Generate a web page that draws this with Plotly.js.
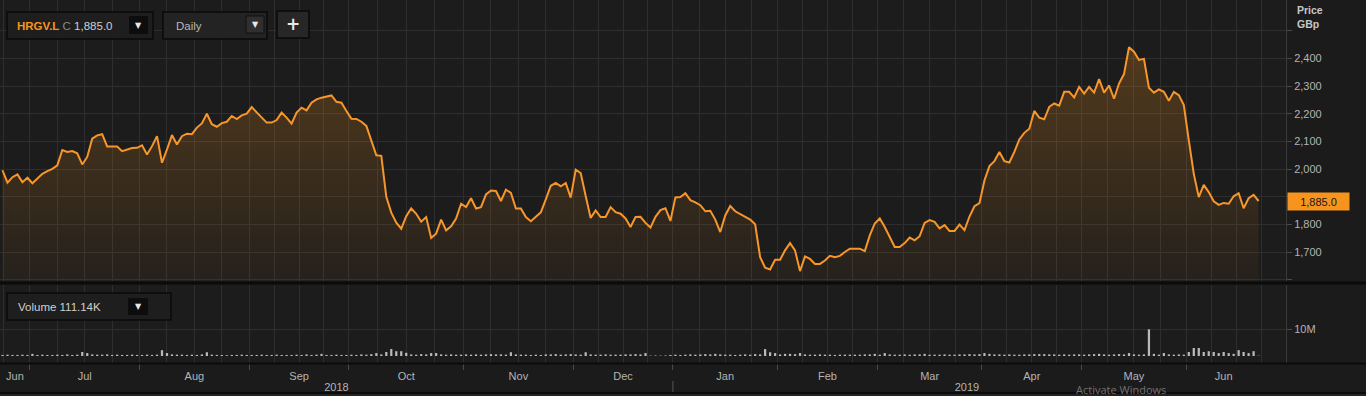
<!DOCTYPE html>
<html><head><meta charset="utf-8">
<script src="https://cdn.plot.ly/plotly-3.0.1.min.js"></script>
<style>html,body{margin:0;padding:0;background:#1b1b1b;overflow:hidden}#chart{width:1366px;height:396px}</style>
</head><body><div id="chart"></div>
<script>
// ---------- data ----------
const ticker = 'HRGV.L';
const interval = 'Daily';
const lastCloseText = '1,885.0';
const lastVolumeText = '111.14K';
const monthLabels = ['Jun','Jul','Aug','Sep','Oct','Nov','Dec','Jan','Feb','Mar','Apr','May','Jun'];
const monthYears  = ['2018','2018','2018','2018','2018','2018','2018','2019','2019','2019','2019','2019','2019'];
const monthSessions = [21,22,22,20,23,22,20,21,20,21,20,21,20];   // trading sessions per month
const sessionsBeforeStart = 15;                                   // sessions of Jun 2018 before first point
const priceTicks = [1600,1700,1800,1900,2000,2100,2200,2300,2400,2500];
const priceTickText = ['','1,700','1,800','','2,000','2,100','2,200','2,300','2,400',''];
const volumeTicks = [10];
const volumeTickText = ['10M'];
const lastClose = 1885.0;

const price = [
1996,1951,1971,1981,1953,1969,1949,1966,1983,1993,
2001,2014,2069,2062,2065,2057,2017,2044,2110,2122,
2126,2082,2082,2082,2065,2071,2076,2077,2086,2053,
2083,2119,2023,2071,2123,2089,2119,2128,2126,2150,
2165,2200,2162,2153,2166,2171,2192,2181,2194,2200,
2224,2205,2186,2168,2168,2177,2204,2186,2164,2204,
2222,2212,2240,2252,2258,2262,2266,2243,2240,2210,
2182,2181,2171,2156,2102,2050,2048,1900,1843,1807,
1785,1830,1858,1839,1810,1827,1752,1767,1818,1779,
1794,1822,1875,1863,1895,1858,1863,1909,1923,1921,
1885,1926,1914,1858,1858,1827,1812,1829,1844,1891,
1940,1950,1938,1950,1897,1998,1986,1903,1824,1851,
1827,1827,1863,1845,1839,1822,1791,1827,1828,1806,
1789,1828,1852,1859,1813,1898,1899,1913,1888,1880,
1870,1848,1850,1818,1773,1833,1867,1848,1838,1828,
1818,1801,1682,1644,1638,1673,1673,1707,1733,1707,
1632,1685,1676,1658,1658,1670,1687,1682,1687,1701,
1713,1713,1713,1704,1761,1804,1822,1791,1755,1719,
1719,1733,1753,1743,1758,1806,1816,1810,1786,1798,
1777,1777,1800,1780,1829,1866,1877,1959,2011,2029,
2062,2029,2024,2062,2107,2131,2146,2210,2186,2180,
2225,2237,2229,2279,2279,2259,2297,2273,2297,2276,
2325,2276,2302,2254,2309,2343,2440,2424,2394,2398,
2294,2276,2288,2279,2247,2279,2267,2231,2104,1983,
1899,1943,1917,1884,1871,1878,1875,1902,1913,1859,
1895,1907,1885];

// volume in millions of shares
const volumeM = [
0.4,0.5,0.4,0.4,0.5,0.4,0.8,0.4,0.5,0.4,
0.4,0.5,0.4,0.6,0.4,0.5,1.5,1.1,0.6,0.5,
0.5,0.6,0.4,0.5,0.4,0.4,0.5,0.4,0.4,0.5,
0.4,0.5,2.2,1.1,0.6,0.5,0.5,0.4,0.5,0.4,
0.6,1.4,0.5,0.4,0.4,0.3,0.4,0.4,0.5,0.4,
0.4,0.4,0.5,0.4,0.4,0.5,0.4,0.4,0.4,0.5,
0.4,0.6,0.4,0.5,0.8,0.4,0.4,0.5,0.4,0.4,
0.5,0.4,0.6,0.5,0.7,1.1,0.6,1.5,2.6,1.8,
1.8,1.2,0.6,0.5,0.7,0.6,1.1,1.1,0.6,0.5,
0.6,0.5,0.5,0.6,0.5,0.6,0.5,0.6,0.7,0.6,
0.6,0.5,1.4,0.6,0.5,0.5,0.4,0.5,0.4,0.6,
0.6,0.7,0.5,0.6,0.7,0.6,0.5,1.4,0.6,0.5,
0.5,0.6,0.5,0.5,0.5,0.6,0.6,0.7,0.6,1.1,
0.15,0.2,0.15,0.2,0.4,0.5,0.4,0.5,0.6,0.5,
0.6,0.7,0.6,0.8,0.6,0.5,0.5,0.4,0.5,0.6,
0.5,0.7,0.6,2.6,1.4,1.1,0.6,0.8,0.8,0.7,
1.1,0.6,0.5,0.5,0.6,0.5,0.5,0.4,0.5,0.5,
0.5,0.5,0.5,0.6,0.6,0.8,0.5,1.1,0.6,0.5,
0.5,0.6,0.5,0.6,0.6,0.8,0.5,0.5,0.5,0.6,
0.5,0.5,0.6,0.6,0.7,0.6,0.7,1.1,0.8,0.6,
0.6,0.5,0.6,0.5,0.5,0.6,0.6,0.7,0.7,0.7,
0.6,0.6,0.5,0.6,0.5,0.6,0.6,0.5,0.6,0.7,
0.8,0.6,0.5,0.6,0.7,0.6,1.1,0.6,0.5,0.6,
10.0,0.8,0.5,1.1,0.6,0.5,0.6,0.5,1.5,3.0,
3.0,1.5,1.8,1.5,1.1,1.5,1.1,0.8,2.2,1.5,
1.1,1.8,0.11];

// ---------- derived positions (trading-session index axis) ----------
const N = price.length;
const xs = price.map((_, i) => i);
const B = [-sessionsBeforeStart - 0.5];
monthSessions.forEach((n, k) => B.push(B[k] + n));
const xMin = -0.5, xMax = B[B.length - 1];
const grid = [];
monthSessions.forEach((n, k) => { for (let j = 0; j < 4; j++) { const g = B[k] + j * n / 4; if (g > xMin + 0.3 && g < xMax - 0.3) grid.push(g); } });
const monthCenters = monthSessions.map((n, k) => (Math.max(B[k], xMin) + Math.min(B[k + 1], N - 0.5)) / 2);
const bounds = B.filter(b => b > xMin && b < xMax);
const years = [...new Set(monthYears)];
const yearCenters = years.map(y => {
  const ks = monthYears.map((m, k) => m === y ? k : -1).filter(k => k >= 0);
  return (Math.max(B[ks[0]], xMin) + Math.min(B[ks[ks.length - 1] + 1], N - 0.5)) / 2;
});
const yearBounds = years.slice(1).map(y => B[monthYears.indexOf(y)]);

// ---------- layout geometry ----------
const W = 1366, H = 396, R = 80, PW = W - R;
const px = v => v / PW, py = v => 1 - v / H;
const GRID = '#2e2e2e', TXT = '#b4b4b4', ORANGE = '#f7941d';

const priceTrace = {
  x: xs, y: price, type: 'scatter', mode: 'lines', xaxis: 'x', yaxis: 'y',
  line: {color: '#f7962b', width: 2}, fill: 'tozeroy',
  fillgradient: {type: 'vertical', start: 1596, stop: 2450,
    colorscale: [[0, 'rgba(247,148,29,0.04)'], [1, 'rgba(247,148,29,0.25)']]},
  hoverinfo: 'skip', showlegend: false
};
const volTrace = {
  x: xs, y: volumeM, type: 'bar', xaxis: 'x2', yaxis: 'y2',
  marker: {color: '#b9b9b9', line: {width: 0}}, hoverinfo: 'skip', showlegend: false
};
const dummy = ax => ({x: [0], y: [null], type: 'scatter', mode: 'lines', xaxis: ax, yaxis: 'y2', hoverinfo: 'skip', showlegend: false});

const baseX = {range: [xMin, xMax], zeroline: false, showline: false, fixedrange: true};
const layout = {
  width: W, height: H, margin: {l: 0, r: R, t: 0, b: 0},
  paper_bgcolor: '#1b1b1b', plot_bgcolor: '#1c1c1c',
  font: {family: 'Liberation Sans, Arial, sans-serif', color: TXT, size: 11},
  showlegend: false, hovermode: false, bargap: 0.55,
  xaxis: Object.assign({}, baseX, {domain: [0, 1], anchor: 'y', tickmode: 'array', tickvals: grid,
    showticklabels: false, ticks: '', showgrid: true, gridcolor: GRID, gridwidth: 1}),
  yaxis: {domain: [py(281), 1], anchor: 'x', side: 'right', range: [1596.3, 2610.4],
    tickmode: 'array', tickvals: priceTicks, ticktext: priceTickText,
    ticks: 'outside', ticklen: 5, tickcolor: '#4a4a4a', showgrid: true, gridcolor: GRID,
    showline: true, linecolor: '#3a3a3a', zeroline: false, tickfont: {size: 11, color: TXT}, fixedrange: true},
  xaxis2: Object.assign({}, baseX, {domain: [0, 1], anchor: 'y2', tickmode: 'array', tickvals: grid,
    showticklabels: false, ticks: '', showgrid: true, gridcolor: GRID}),
  xaxis3: Object.assign({}, baseX, {overlaying: 'x2', anchor: 'y2', tickmode: 'array', tickvals: monthCenters,
    ticktext: monthLabels, ticks: 'outside', ticklen: 3, tickcolor: 'rgba(0,0,0,0)', showgrid: false,
    tickfont: {size: 11, color: TXT}}),
  xaxis4: Object.assign({}, baseX, {overlaying: 'x2', anchor: 'y2', tickmode: 'array', tickvals: bounds,
    ticktext: bounds.map(() => ''), ticks: 'outside', ticklen: 6, tickcolor: '#4a4a4a', showgrid: false}),
  xaxis5: Object.assign({}, baseX, {overlaying: 'x2', anchor: 'y2', tickmode: 'array', tickvals: yearCenters,
    ticktext: years, ticks: 'outside', ticklen: 14, tickcolor: 'rgba(0,0,0,0)', showgrid: false,
    tickfont: {size: 11, color: TXT}}),
  yaxis2: {domain: [py(363), py(285)], anchor: 'x2', side: 'right', range: [-2.62, 26.6],
    tickmode: 'array', tickvals: volumeTicks, ticktext: volumeTickText, ticks: 'outside', ticklen: 5,
    tickcolor: '#4a4a4a', showgrid: true, gridcolor: GRID, showline: true, linecolor: '#3a3a3a',
    zeroline: false, tickfont: {size: 11, color: TXT}, fixedrange: true},
  shapes: [
    // panel separators
    {type: 'rect', xref: 'paper', yref: 'paper', x0: 0, x1: W / PW, y0: py(284.5), y1: py(281.5), fillcolor: '#0b0b0b', line: {width: 0}},
    {type: 'rect', xref: 'paper', yref: 'paper', x0: 0, x1: W / PW, y0: py(364.5), y1: py(362.5), fillcolor: '#0b0b0b', line: {width: 0}},
    {type: 'rect', xref: 'paper', yref: 'paper', x0: 0, x1: W / PW, y0: py(394), y1: py(392), fillcolor: '#0b0b0b', line: {width: 0}},
    {type: 'rect', xref: 'paper', yref: 'paper', x0: 0, x1: W / PW, y0: py(396), y1: py(394), fillcolor: '#232323', line: {width: 0}},
    // year boundary tick
    ...yearBounds.map(b => ({type: 'line', xref: 'x2', yref: 'paper', x0: b, x1: b, y0: py(392), y1: py(381), line: {color: '#555', width: 1}})),
    // instrument control
    {type: 'rect', xref: 'paper', yref: 'paper', x0: px(7), x1: px(153), y0: py(39), y1: py(12), fillcolor: '#1e1e1e', line: {color: '#0a0a0a', width: 1.5}},
    {type: 'rect', xref: 'paper', yref: 'paper', x0: px(129), x1: px(148), y0: py(34), y1: py(16), fillcolor: '#0d0d0d', line: {width: 0}},
    // interval control
    {type: 'rect', xref: 'paper', yref: 'paper', x0: px(163), x1: px(267), y0: py(39), y1: py(12), fillcolor: '#232323', line: {color: '#0a0a0a', width: 1.5}},
    {type: 'rect', xref: 'paper', yref: 'paper', x0: px(246), x1: px(264), y0: py(33), y1: py(16), fillcolor: '#2f2f2f', line: {color: '#111', width: 1}},
    // add button
    {type: 'rect', xref: 'paper', yref: 'paper', x0: px(277), x1: px(309), y0: py(38), y1: py(11), fillcolor: '#272727', line: {color: '#0a0a0a', width: 1.5}},
    // volume control
    {type: 'rect', xref: 'paper', yref: 'paper', x0: px(7), x1: px(171), y0: py(320), y1: py(293), fillcolor: '#1e1e1e', line: {color: '#0a0a0a', width: 1.5}},
    {type: 'rect', xref: 'paper', yref: 'paper', x0: px(128), x1: px(148), y0: py(315), y1: py(298), fillcolor: '#0d0d0d', line: {width: 0}}
  ],
  annotations: [
    {xref: 'paper', yref: 'paper', x: px(15), y: py(25.5), xanchor: 'left', yanchor: 'middle', showarrow: false,
     text: `<b><span style="color:${ORANGE}">${ticker}</span></b> <span style="color:#8a8a8a">C</span><span style="color:#cfcfcf"> ${lastCloseText}</span>`, font: {size: 11.5}},
    {xref: 'paper', yref: 'paper', x: px(138.5), y: py(25), xanchor: 'center', yanchor: 'middle', showarrow: false, text: '▼', font: {size: 8, color: '#e8e8e8', family: 'DejaVu Sans'}},
    {xref: 'paper', yref: 'paper', x: px(174), y: py(25.5), xanchor: 'left', yanchor: 'middle', showarrow: false, text: interval, font: {size: 11.5, color: '#b8b8b8'}},
    {xref: 'paper', yref: 'paper', x: px(255), y: py(24.5), xanchor: 'center', yanchor: 'middle', showarrow: false, text: '▼', font: {size: 8, color: '#e8e8e8', family: 'DejaVu Sans'}},
    {xref: 'paper', yref: 'paper', x: px(293), y: py(24.5), xanchor: 'center', yanchor: 'middle', showarrow: false, text: '<b>+</b>', font: {size: 17, color: '#e8e8e8', family: 'DejaVu Sans'}},
    {xref: 'paper', yref: 'paper', x: px(16), y: py(307), xanchor: 'left', yanchor: 'middle', showarrow: false, text: 'Volume ' + lastVolumeText, font: {size: 11.5, color: '#cfcfcf'}},
    {xref: 'paper', yref: 'paper', x: px(138), y: py(306.5), xanchor: 'center', yanchor: 'middle', showarrow: false, text: '▼', font: {size: 8, color: '#e8e8e8', family: 'DejaVu Sans'}},
    {xref: 'paper', yref: 'paper', x: px(1295), y: py(2), xanchor: 'left', yanchor: 'top', showarrow: false, align: 'left',
     text: '<b>Price</b><br><b>GBp</b>', font: {size: 10.5, color: '#c8c8c8'}},
    {xref: 'paper', yref: 'y', x: 1, y: lastClose, xanchor: 'left', yanchor: 'middle', xshift: 1, showarrow: false,
     text: lastCloseText, bgcolor: ORANGE, width: 61, height: 17, align: 'center', borderpad: 0,
     font: {size: 11, color: '#141414'}},
    {xref: 'paper', yref: 'paper', x: px(1075), y: py(380.5), xanchor: 'left', yanchor: 'top', showarrow: false, borderpad: 0,
     text: 'Activate Windows', font: {size: 11, color: 'rgba(190,190,190,0.55)', family: 'Open Sans, sans-serif'}}
  ]
};

Plotly.newPlot('chart', [priceTrace, volTrace, dummy('x3'), dummy('x4'), dummy('x5')], layout, {displayModeBar: false, staticPlot: true});
</script>
</body></html>
